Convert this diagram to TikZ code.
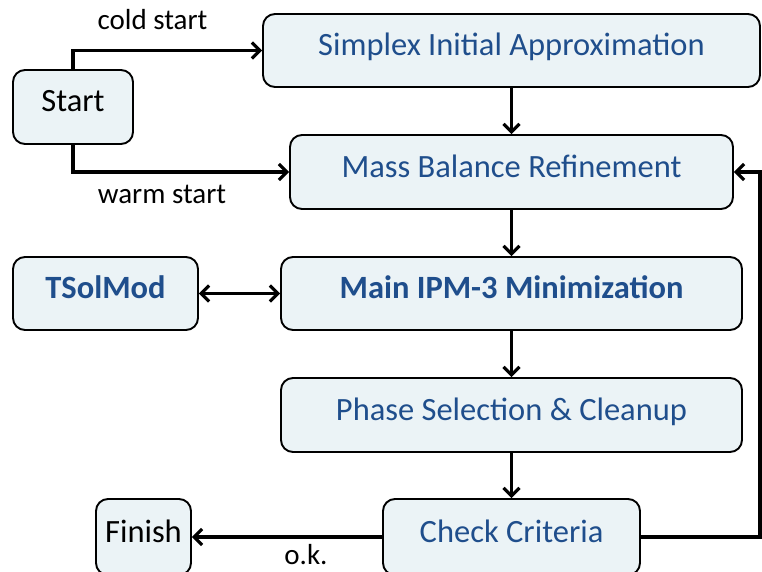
\documentclass[tikz,border=0pt]{standalone}
\usepackage{fontspec}
\setmainfont{Carlito}
\usetikzlibrary{arrows.meta}
\definecolor{boxfill}{HTML}{EBF3F6}
\definecolor{boxtext}{HTML}{1F4E8C}
\tikzset{barb/.tip={Straight Barb[length=8pt,width=16pt,line width=3.1pt]}}
\begin{document}
\begin{tikzpicture}[x=1pt,y=-1pt,
  box/.style={draw=black,line width=1.9pt,fill=boxfill,rounded corners=12pt,inner sep=0pt,
    text height=21pt,text depth=11pt,
    font=\fontsize{32.5}{36}\selectfont},
  bluebox/.style={box,text=boxtext},
  boldbox/.style={bluebox,font=\fontsize{32.5}{36}\selectfont\bfseries},
  conn/.style={line width=3.1pt,-barb},
  lbl/.style={font=\fontsize{29}{32}\selectfont,text=black,anchor=base,inner sep=0pt}]
\useasboundingbox (0,0) rectangle (762,572);
\node[box,minimum width=120pt,minimum height=74pt] (start) at (73,107) {Start};
\node[bluebox,minimum width=497pt,minimum height=73pt] (simplex) at (511.5,50.5) {Simplex Initial Approximation};
\node[bluebox,minimum width=443pt,minimum height=74pt] (mass) at (511.5,172) {Mass Balance Refinement};
\node[boldbox,minimum width=185pt,minimum height=73pt] (tsol) at (105.5,293.5) {TSolMod};
\node[boldbox,minimum width=461pt,minimum height=73pt] (ipm) at (511.5,293.5) {Main IPM-3 Minimization};
\node[bluebox,minimum width=461pt,minimum height=74pt] (phase) at (511.5,415) {Phase Selection \& Cleanup};
\node[bluebox,minimum width=257pt,minimum height=76pt] (check) at (511.5,537) {Check Criteria};
\node[box,minimum width=95pt,minimum height=76pt] (finish) at (143.5,537) {Finish};
\coordinate (loop) at (760,537);
\draw[conn] (start.north) |- (simplex.west);
\draw[conn] (start.south) |- (mass.west);
\draw[conn] (simplex) -- (mass);
\draw[conn] (mass) -- (ipm);
\draw[conn] (ipm) -- (phase);
\draw[conn] (phase) -- (check);
\draw[conn,barb-barb] (tsol) -- (ipm);
\draw[conn] (check) -- (finish);
\draw[conn] (check.east) -- (loop) |- (mass.east);
\node[lbl] (cold) at (152.5,30) {cold start};
\node[lbl] (warm) at (162,204) {warm start};
\node[lbl] (ok) at (306,564) {o.k.};
\end{tikzpicture}
\end{document}
